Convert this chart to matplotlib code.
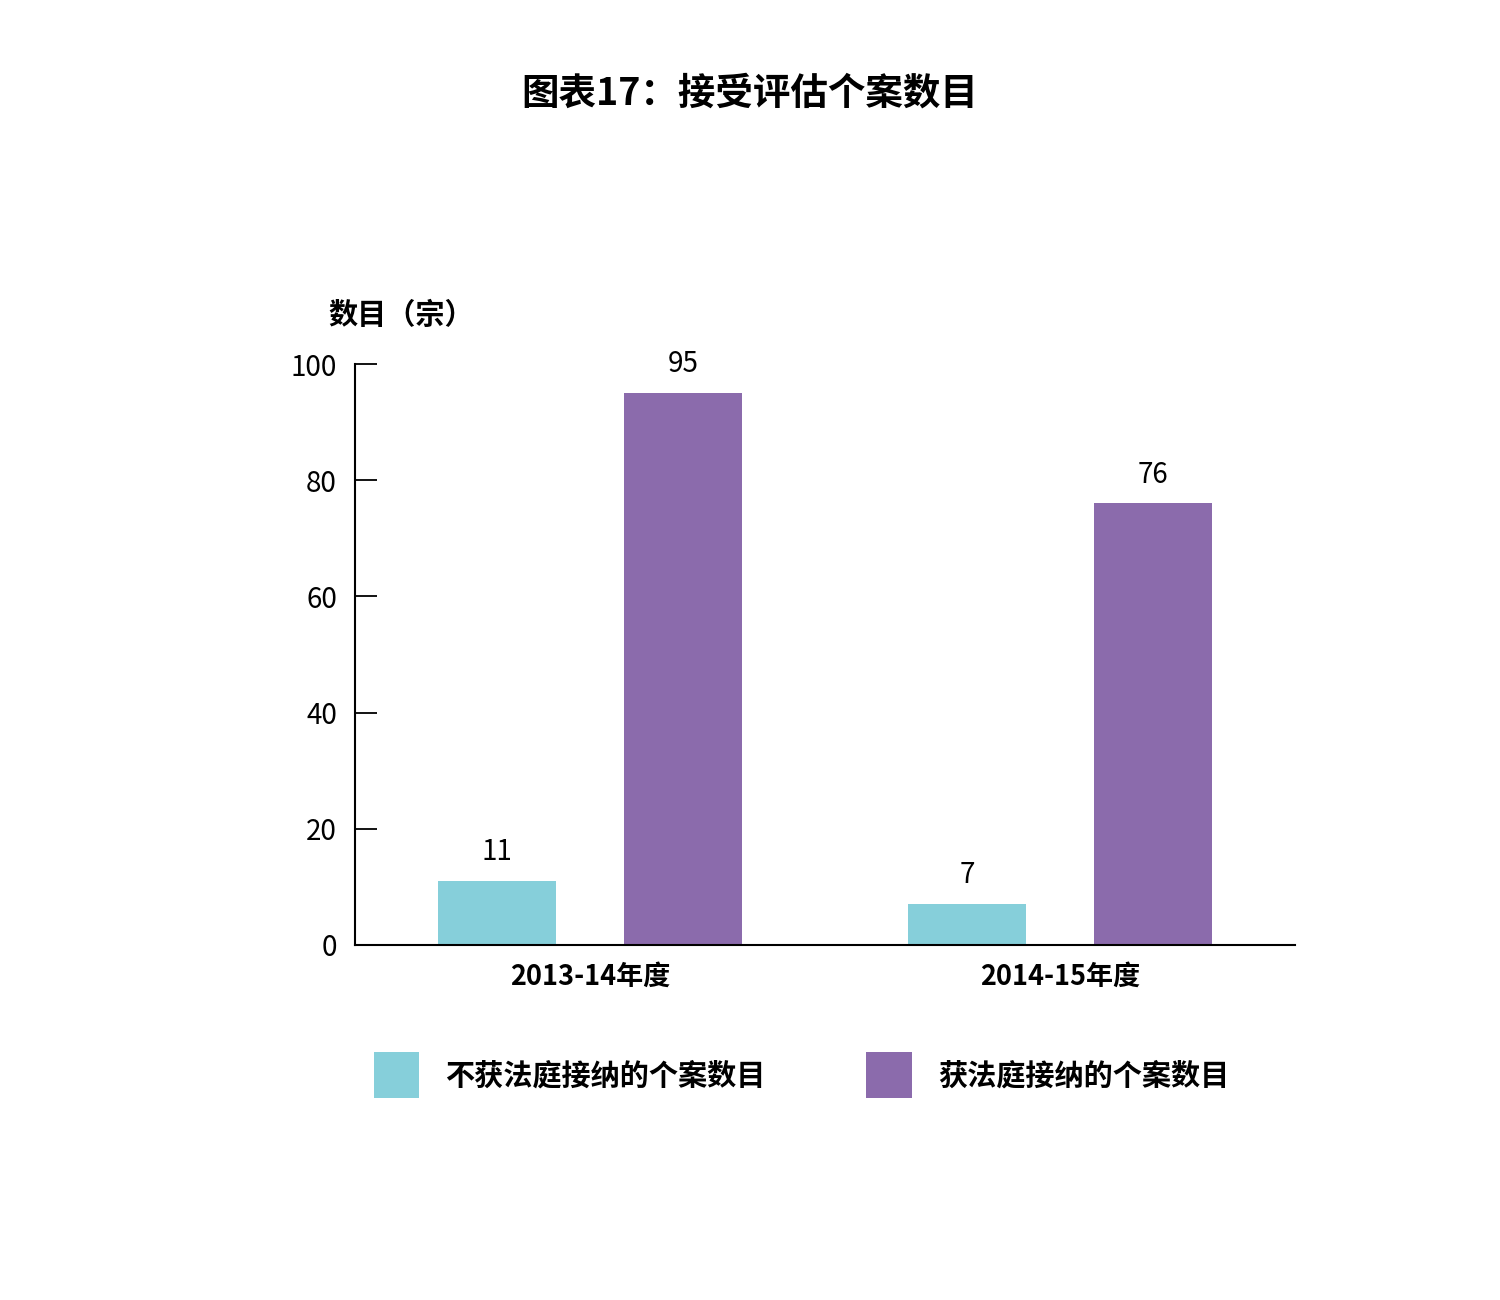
import matplotlib
matplotlib.use("Agg")
import matplotlib.pyplot as plt
import numpy as np

categories = ["2013-14年度", "2014-15年度"]
series_names = ["不获法庭接纳的个案数目", "获法庭接纳的个案数目"]
not_accepted = [11, 7]
accepted = [95, 76]
yticks = [0, 20, 40, 60, 80, 100]

title = "图表17：接受评估个案数目"
ylabel = "数目（宗）"

FAM = ["Noto Sans CJK SC", "DejaVu Sans"]
plt.rcParams["font.family"] = FAM

teal = "#86CFDA"
purple = "#8B6BAC"

fig = plt.figure(figsize=(15, 13), dpi=100)
ax = fig.add_axes([355/1500, 1-945/1300, 940/1500, 581/1300])

x = np.arange(len(categories))
w = 0.25
off = 0.198
b1 = ax.bar(x - off, not_accepted, width=w, color=teal, label=series_names[0], zorder=2)
b2 = ax.bar(x + off, accepted, width=w, color=purple, label=series_names[1], zorder=2)

for bars, vals in ((b1, not_accepted), (b2, accepted)):
    for rect, v in zip(bars, vals):
        ax.annotate(str(v), (rect.get_x() + rect.get_width()/2, v),
                    xytext=(0, 10), textcoords="offset points",
                    ha="center", va="bottom", fontsize=20, fontweight="medium")

ax.set_xlim(-0.5, 1.5)
ax.set_ylim(0, 100)
ax.set_yticks(yticks)
ax.set_yticklabels([str(t) for t in yticks], fontsize=20, fontweight="medium")
ax.set_xticks(x)
ax.set_xticklabels(categories, fontsize=19.5, fontweight="bold")
ax.tick_params(axis="y", direction="in", length=16, width=1.3, pad=13)
ax.tick_params(axis="x", length=0, pad=13)
for s in ("top", "right"):
    ax.spines[s].set_visible(False)
for s in ("left", "bottom"):
    ax.spines[s].set_linewidth(1.5)
    ax.spines[s].set_color("black")

fig.text(750/1500, 1-93/1300, title, ha="center", va="center",
         fontsize=27, fontweight="bold")
fig.text(328/1500, 1-315/1300, ylabel, ha="left", va="center",
         fontsize=21, fontweight="bold")

leg = fig.legend(handles=[b1, b2], labels=series_names, loc="center left",
                 bbox_to_anchor=(374/1500, 1-1075/1300), ncol=2, frameon=False,
                 handlelength=1.55, handleheight=2.0,
                 handletextpad=0.9, columnspacing=3.45, borderpad=0,
                 borderaxespad=0, prop={"weight": "bold", "size": 21})

fig.savefig("out.png", dpi=100, facecolor="white")
